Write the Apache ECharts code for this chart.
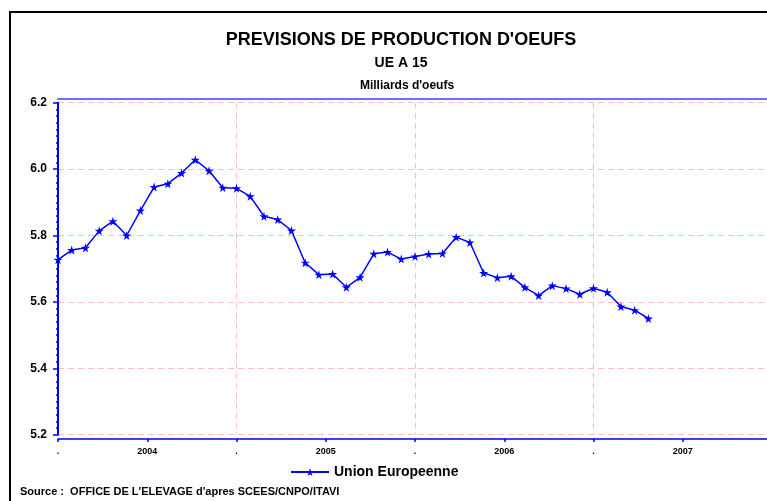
<!DOCTYPE html>
<html>
<head>
<meta charset="utf-8">
<script src="https://cdn.jsdelivr.net/npm/echarts@6/dist/echarts.min.js"></script>
<style>
  html, body { margin: 0; padding: 0; background: #fff; }
  #chart { width: 767px; height: 501px; }
</style>
</head>
<body>
<div id="chart"></div>
<script>
// 4-week periods, 13 per year, starting at the first period of 2004
var periodsPerYear = 13
var prodValues = [
  5.727, 5.756, 5.763, 5.814, 5.843, 5.800, 5.875, 5.946, 5.956, 5.988,
  6.028, 5.995, 5.944, 5.942, 5.918, 5.858, 5.848, 5.815, 5.718, 5.682,
  5.684, 5.644, 5.674, 5.745, 5.750, 5.729, 5.737, 5.744, 5.746, 5.795,
  5.779, 5.687, 5.673, 5.677, 5.644, 5.619, 5.649, 5.640, 5.623, 5.641,
  5.629, 5.586, 5.575, 5.550
]
var xTickLabels = ['.', '2004', '.', '2005', '.', '2006', '.', '2007', '.']
var yMin = 5.2
var yMax = 6.2
var yStep = 0.2
var seriesName = 'Union Europeenne'
var titleLines = ["PREVISIONS DE PRODUCTION D'OEUFS", 'UE A 15', "Milliards d'oeufs"]
var sourceText = "Source :  OFFICE DE L'ELEVAGE d'apres SCEES/CNPO/ITAVI"

var font = 'Liberation Sans, Arial, sans-serif'
var gridPink = '#ffbcc8'
var starPath = 'path://M50,0 L61,35 L98,35 L68,57 L79,91 L50,70 L21,91 L32,57 L2,35 L39,35 Z'

var chart = echarts.init(document.getElementById('chart'))
var halfYear = periodsPerYear / 2
var xMax = periodsPerYear * (xTickLabels.length - 1) / 2

var option = {
  animation: false,
  backgroundColor: '#fff',
  title: [
    { text: titleLines[0], left: 396, top: 26, textAlign: 'center',
      textStyle: { fontFamily: font, fontSize: 18, fontWeight: 'bold', color: '#000' } },
    { text: titleLines[1], left: 396, top: 51, textAlign: 'center',
      textStyle: { fontFamily: font, fontSize: 14, fontWeight: 'bold', color: '#000' } },
    { text: titleLines[2], left: 402, top: 75, textAlign: 'center',
      textStyle: { fontFamily: font, fontSize: 12, fontWeight: 'bold', color: '#000' } }
  ],
  graphic: [
    {
      type: 'rect', z: -1, silent: true,
      shape: { x: 10, y: 12, width: 800, height: 600 },
      style: { fill: null, stroke: '#000', lineWidth: 2 }
    },
    {
      type: 'text', left: 20, top: 486, silent: true,
      style: { text: sourceText, font: 'bold 11px ' + font, fill: '#000' }
    }
  ],
  legend: {
    data: [seriesName],
    left: 285,
    top: 460,
    itemWidth: 38,
    itemHeight: 10,
    textStyle: { fontFamily: font, fontSize: 14, fontWeight: 'bold', color: '#000' }
  },
  grid: { left: 58, right: -5, top: 102.7, bottom: 66.3, outerBoundsMode: 'none', containLabel: false },
  xAxis: [
    {
      type: 'value',
      min: 0,
      max: xMax,
      interval: halfYear,
      offset: 4.3,
      axisLine: { show: true, lineStyle: { color: '#0000ff', width: 1.5 } },
      axisTick: { show: true, length: 3, lineStyle: { color: '#0000ff', width: 1.5 } },
      axisLabel: {
        margin: 8,
        showMinLabel: true,
        fontFamily: font, fontSize: 9, fontWeight: 'bold', color: '#000',
        formatter: function (v) { return xTickLabels[Math.round(v / halfYear)] }
      },
      splitLine: { show: false }
    },
    {
      type: 'value',
      position: 'top',
      min: 0,
      max: xMax,
      interval: periodsPerYear,
      offset: 3.7,
      axisLine: { show: true, lineStyle: { color: '#6f6fff', width: 2 } },
      axisTick: { show: false },
      axisLabel: { show: false },
      splitLine: { show: true, lineStyle: { color: gridPink, type: [6, 4], width: 1 } }
    }
  ],
  yAxis: {
    type: 'value',
    min: yMin,
    max: yMax,
    interval: yStep,
    offset: 4,
    axisLine: { show: true, lineStyle: { color: '#0000ff', width: 2 } },
    axisTick: { show: true, length: 5, lineStyle: { color: '#0000ff', width: 1.5 } },
    minorTick: { show: true, splitNumber: 10, length: 2, lineStyle: { color: '#0000ff', width: 1.5 } },
    axisLabel: {
      margin: 7,
      fontFamily: font, fontSize: 12, fontWeight: 'bold', color: '#000',
      formatter: function (v) { return v.toFixed(1) }
    },
    splitLine: { show: true, lineStyle: { color: gridPink, type: [6, 4], width: 1 } }
  },
  series: [
    {
      name: seriesName,
      type: 'line',
      xAxisIndex: 0,
      data: prodValues.map(function (v, i) { return [i, v] }),
      symbol: starPath,
      symbolSize: 9,
      showAllSymbol: true,
      itemStyle: { color: '#0000ff' },
      lineStyle: { color: '#0000ff', width: 1.5 }
    }
  ]
}

chart.setOption(option)
</script>
</body>
</html>
